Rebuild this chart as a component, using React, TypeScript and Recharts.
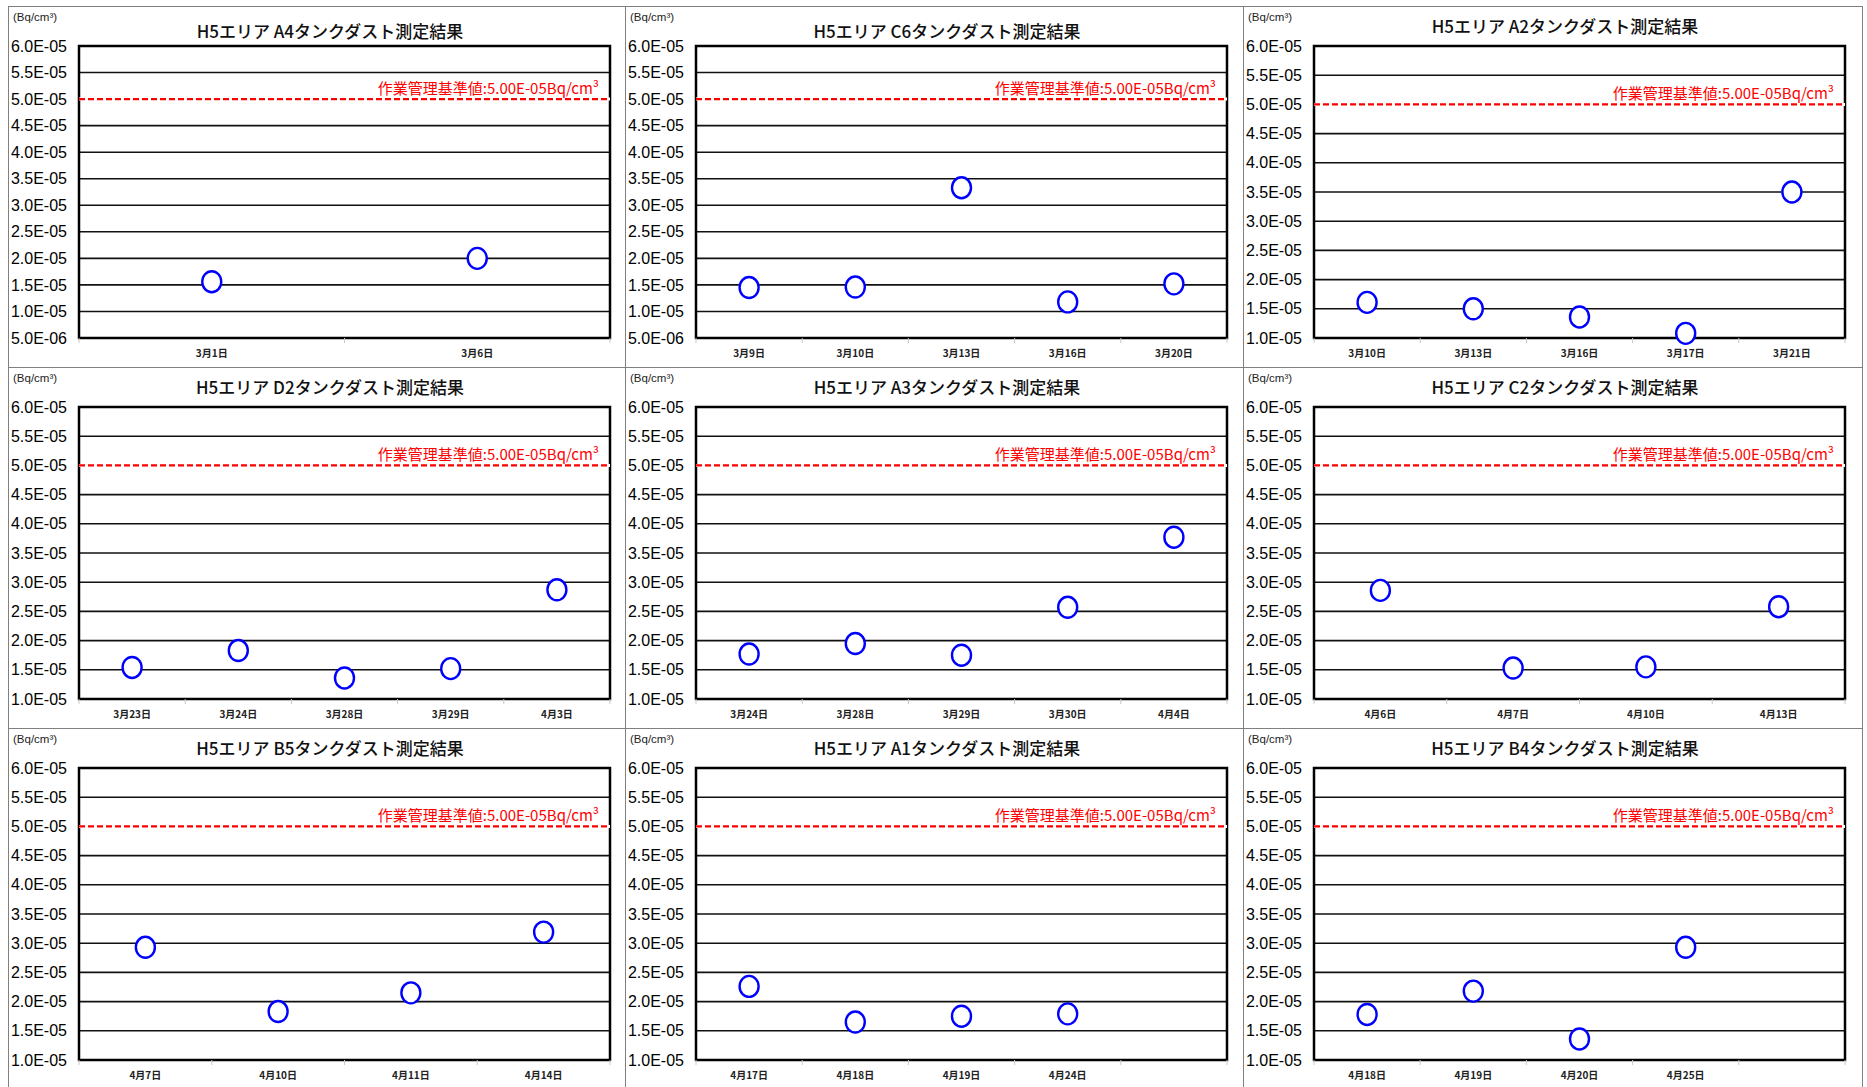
import React from 'react'
import {
  ComposedChart,
  Line,
  XAxis,
  YAxis,
  CartesianGrid,
  ReferenceLine,
  ReferenceArea,
} from 'recharts'

// measurement dates and results (Bq/cm3) per tank
const a4Dates = ['3月1日', '3月6日']
const a4Values = [1.56e-5, 2.0e-5]

const c6Dates = ['3月9日', '3月10日', '3月13日', '3月16日', '3月20日']
const c6Values = [1.45e-5, 1.46e-5, 3.33e-5, 1.18e-5, 1.52e-5]

const a2Dates = ['3月10日', '3月13日', '3月16日', '3月17日', '3月21日']
const a2Values = [1.61e-5, 1.5e-5, 1.36e-5, 1.08e-5, 3.5e-5]

const d2Dates = ['3月23日', '3月24日', '3月28日', '3月29日', '4月3日']
const d2Values = [1.54e-5, 1.83e-5, 1.36e-5, 1.52e-5, 2.87e-5]

const a3Dates = ['3月24日', '3月28日', '3月29日', '3月30日', '4月4日']
const a3Values = [1.77e-5, 1.95e-5, 1.75e-5, 2.57e-5, 3.77e-5]

const c2Dates = ['4月6日', '4月7日', '4月10日', '4月13日']
const c2Values = [2.86e-5, 1.53e-5, 1.55e-5, 2.58e-5]

const b5Dates = ['4月7日', '4月10日', '4月11日', '4月14日']
const b5Values = [2.93e-5, 1.83e-5, 2.15e-5, 3.19e-5]

const a1Dates = ['4月17日', '4月18日', '4月19日', '4月24日', '']
const a1Values = [2.26e-5, 1.65e-5, 1.75e-5, 1.79e-5, null]

const b4Dates = ['4月18日', '4月19日', '4月20日', '4月25日', '']
const b4Values = [1.78e-5, 2.18e-5, 1.36e-5, 2.93e-5, null]

// y axis ticks
const yTicksFrom5e6 = [5e-6, 1e-5, 1.5e-5, 2e-5, 2.5e-5, 3e-5, 3.5e-5, 4e-5, 4.5e-5, 5e-5, 5.5e-5, 6e-5]
const yTicksFrom1e5 = [1e-5, 1.5e-5, 2e-5, 2.5e-5, 3e-5, 3.5e-5, 4e-5, 4.5e-5, 5e-5, 5.5e-5, 6e-5]

const LIMIT = 5e-5
const LIMIT_LABEL = '作業管理基準値:5.00E-05Bq/cm³'

const CHART_W = 617
const CHART_H = 361
const PLOT_LEFT = 70
const PLOT_RIGHT_PAD = 16
const PLOT_W = CHART_W - PLOT_LEFT - PLOT_RIGHT_PAD

const cjk = '"Noto Sans CJK JP", "Noto Sans", sans-serif'
const latin = '"Liberation Sans", Arial, sans-serif'

const fmtExp = (v: number) => {
  const [m, e] = v.toExponential(1).split('e')
  const n = parseInt(e, 10)
  return `${m}E${n < 0 ? '-' : '+'}${String(Math.abs(n)).padStart(2, '0')}`
}

const LimitLabel = (props: any) => {
  const vb = props.viewBox || props
  const x = vb.x + vb.width - 11
  const y = vb.y - 5
  return (
    <text x={x} y={y} textAnchor="end" fill="#ff0000" fontSize={15} fontFamily={cjk}>
      {LIMIT_LABEL}
    </text>
  )
}

const Marker = (props: any) => {
  const { cx, cy, index } = props
  if (cx == null || cy == null || isNaN(cx) || isNaN(cy)) return <g key={`m-${index}`} />
  return (
    <ellipse
      key={`m-${index}`}
      cx={cx}
      cy={cy}
      rx={9.5}
      ry={10.5}
      fill="#ffffff"
      stroke="#0000ff"
      strokeWidth={2.4}
    />
  )
}

interface PanelProps {
  title: string
  dates: string[]
  values: (number | null)[]
  yTicks: number[]
  left: number
  top: number
  titleTop?: number
}

function Panel({ title, dates, values, yTicks, left, top, titleTop = 7 }: PanelProps) {
  const data = dates.map((d, i) => ({ i, date: d, value: values[i] }))
  const n = dates.length
  const half = PLOT_W / n / 2

  const XTick = (p: any) => {
    const { x, y, payload, index } = p
    const label = dates[payload.value] ?? ''
    const axisY = y - 8
    return (
      <g>
        <line x1={x - half} x2={x - half} y1={axisY} y2={axisY + 5} stroke="#c8c8c8" strokeWidth={1} />
        {index === n - 1 && (
          <line x1={x + half} x2={x + half} y1={axisY} y2={axisY + 5} stroke="#c8c8c8" strokeWidth={1} />
        )}
        <text x={x} y={y + 11} textAnchor="middle" fontSize={10} fontWeight="bold" fill="#222" fontFamily={cjk}>
          {label}
        </text>
      </g>
    )
  }

  return (
    <div
      style={{
        position: 'absolute',
        left,
        top,
        width: CHART_W + 3,
        height: CHART_H + 3,
        boxSizing: 'border-box',
        border: '1.5px solid #808080',
        background: '#fff',
      }}
    >
      <div
        style={{
          position: 'absolute',
          left: 4,
          top: 3,
          fontSize: 11.5,
          fontFamily: latin,
          color: '#222',
          lineHeight: '15px',
        }}
      >
        (Bq/cm³)
      </div>
      <div
        style={{
          position: 'absolute',
          left: 0,
          width: 642,
          top: titleTop,
          textAlign: 'center',
          fontSize: 17,
          fontWeight: 500,
          fontFamily: cjk,
          color: '#111',
          lineHeight: '24px',
          whiteSpace: 'nowrap',
        }}
      >
        {title}
      </div>
      <ComposedChart
        width={CHART_W}
        height={CHART_H}
        data={data}
        margin={{ top: 39, right: PLOT_RIGHT_PAD, bottom: 0, left: 0 }}
        style={{ position: 'absolute', left: 0, top: 0 }}
      >
        <CartesianGrid horizontal vertical={false} stroke="#111" strokeWidth={1.6} />
        <XAxis
          dataKey="i"
          type="number"
          domain={[-0.5, n - 0.5]}
          ticks={data.map((d) => d.i)}
          interval={0}
          height={30}
          axisLine={false}
          tickLine={false}
          tick={<XTick />}
        />
        <YAxis
          type="number"
          domain={[yTicks[0], yTicks[yTicks.length - 1]]}
          ticks={yTicks}
          interval={0}
          width={PLOT_LEFT}
          axisLine={false}
          tickLine={false}
          tickSize={6}
          tickMargin={6}
          tickFormatter={fmtExp}
          tick={{ fontSize: 16, fill: '#000', fontFamily: latin }}
        />
        <ReferenceArea
          y1={yTicks[0]}
          y2={yTicks[yTicks.length - 1]}
          fill="none"
          stroke="#000"
          strokeWidth={2.5}
          ifOverflow="visible"
        />
        <ReferenceLine y={LIMIT} stroke="#ffffff" strokeWidth={3} />
        <ReferenceLine
          y={LIMIT}
          stroke="#ff0000"
          strokeWidth={2.2}
          strokeDasharray="6 3"
          label={<LimitLabel />}
        />
        <Line
          dataKey="value"
          stroke="none"
          isAnimationActive={false}
          dot={Marker}
          activeDot={false}
          connectNulls={false}
        />
      </ComposedChart>
    </div>
  )
}

const colLefts = [8, 625, 1243]
const rowTops = [6, 367, 728]

export default function App() {
  return (
    <div
      style={{
        position: 'absolute',
        left: 0,
        top: 0,
        width: 1867,
        height: 1087,
        background: '#ffffff',
        overflow: 'hidden',
      }}
    >
      <Panel title="H5エリア A4タンクダスト測定結果" dates={a4Dates} values={a4Values} yTicks={yTicksFrom5e6} left={colLefts[0]} top={rowTops[0]} titleTop={12} />
      <Panel title="H5エリア C6タンクダスト測定結果" dates={c6Dates} values={c6Values} yTicks={yTicksFrom5e6} left={colLefts[1]} top={rowTops[0]} titleTop={12} />
      <Panel title="H5エリア A2タンクダスト測定結果" dates={a2Dates} values={a2Values} yTicks={yTicksFrom1e5} left={colLefts[2]} top={rowTops[0]} />
      <Panel title="H5エリア D2タンクダスト測定結果" dates={d2Dates} values={d2Values} yTicks={yTicksFrom1e5} left={colLefts[0]} top={rowTops[1]} />
      <Panel title="H5エリア A3タンクダスト測定結果" dates={a3Dates} values={a3Values} yTicks={yTicksFrom1e5} left={colLefts[1]} top={rowTops[1]} />
      <Panel title="H5エリア C2タンクダスト測定結果" dates={c2Dates} values={c2Values} yTicks={yTicksFrom1e5} left={colLefts[2]} top={rowTops[1]} />
      <Panel title="H5エリア B5タンクダスト測定結果" dates={b5Dates} values={b5Values} yTicks={yTicksFrom1e5} left={colLefts[0]} top={rowTops[2]} />
      <Panel title="H5エリア A1タンクダスト測定結果" dates={a1Dates} values={a1Values} yTicks={yTicksFrom1e5} left={colLefts[1]} top={rowTops[2]} />
      <Panel title="H5エリア B4タンクダスト測定結果" dates={b4Dates} values={b4Values} yTicks={yTicksFrom1e5} left={colLefts[2]} top={rowTops[2]} />
    </div>
  )
}
